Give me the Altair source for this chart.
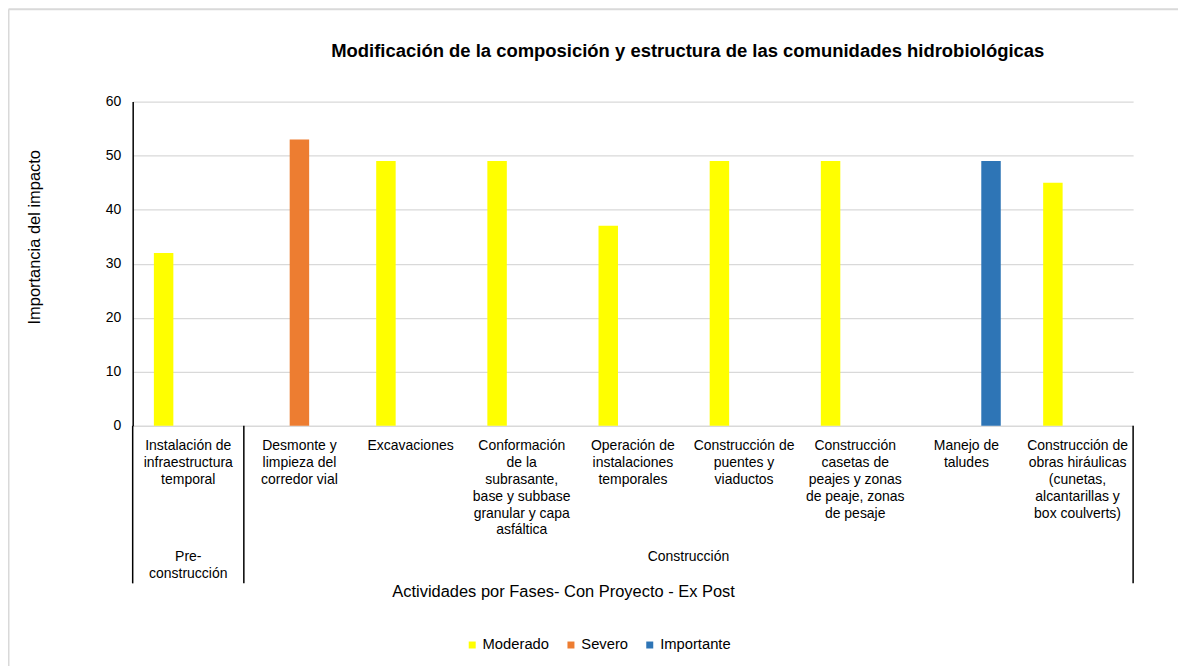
import altair as alt
import pandas as pd

FONT = "Liberation Sans"

# ---- data ----
categories = [
    "Instalación de infraestructura temporal",
    "Desmonte y limpieza del corredor vial",
    "Excavaciones",
    "Conformación de la subrasante, base y subbase granular y capa asfáltica",
    "Operación de instalaciones temporales",
    "Construcción de puentes y viaductos",
    "Construcción casetas de peajes y zonas de peaje, zonas de pesaje",
    "Manejo de taludes",
    "Construcción de obras hiráulicas (cunetas, alcantarillas y box coulverts)",
]
category_labels = [
    "Instalación de|infraestructura|temporal",
    "Desmonte y|limpieza del|corredor vial",
    "Excavaciones",
    "Conformación|de la|subrasante,|base y subbase|granular y capa|asfáltica",
    "Operación de|instalaciones|temporales",
    "Construcción de|puentes y|viaductos",
    "Construcción|casetas de|peajes y zonas|de peaje, zonas|de pesaje",
    "Manejo de|taludes",
    "Construcción de|obras hiráulicas|(cunetas,|alcantarillas y|box coulverts)",
]
bar_series = ["Moderado", "Severo", "Moderado", "Moderado", "Moderado",
              "Moderado", "Moderado", "Importante", "Moderado"]
bar_values = [32, 53, 49, 49, 37, 49, 49, 49, 45]

series_names = ["Moderado", "Severo", "Importante"]
series_colors = ["#FFFF00", "#ED7D31", "#2E75B6"]

phase_labels = ["Pre-|construcción", "Construcción"]
phase_first = [categories[0], categories[1]]
phase_last = [categories[0], categories[8]]

title_text = "Modificación de la composición y estructura de las comunidades hidrobiológicas"
y_title = "Importancia del impacto"
x_title = "Actividades por Fases- Con Proyecto - Ex Post"

W, H = 1003, 325

bars_df = pd.DataFrame({"cat": categories, "serie": bar_series, "valor": bar_values})
labels_df = pd.DataFrame({"cat": categories, "label": category_labels})

xscale = alt.Scale(domain=categories, paddingInner=0, paddingOuter=0)

bars = alt.Chart(bars_df).mark_bar().encode(
    x=alt.X("cat:N", scale=xscale, sort=categories,
            axis=alt.Axis(labels=False, ticks=False, domain=True, domainColor="black",
                          domainWidth=1.5, grid=False, title=None)),
    xOffset=alt.XOffset("serie:N", scale=alt.Scale(domain=series_names, paddingInner=0.21, paddingOuter=0.86)),
    y=alt.Y("valor:Q", scale=alt.Scale(domain=[0, 60]),
            axis=alt.Axis(values=[0, 10, 20, 30, 40, 50, 60], ticks=False, labelPadding=12,
                          labelFontSize=14, labelColor="black", domainColor="black", domainWidth=1.5,
                          gridColor="#d9d9d9", gridWidth=1.3,
                          title=y_title, titleFontSize=16.5, titleFontWeight="normal",
                          titleColor="black", titleX=-98, titleY=135.5, titleAngle=270,
                          titleAlign="center", titleBaseline="middle")),
    color=alt.Color("serie:N", scale=alt.Scale(domain=series_names, range=series_colors),
                    legend=alt.Legend(title=None, orient="none", legendX=333, legendY=537,
                                      direction="horizontal", symbolType="square", symbolSize=49,
                                      symbolStrokeWidth=0, labelFontSize=14.8, labelColor="black",
                                      columnPadding=14, labelOffset=3, padding=0)),
)

cat_text = alt.Chart(labels_df).mark_text(
    lineBreak="|", baseline="top", align="center", fontSize=14, lineHeight=17, color="black", font=FONT
).encode(
    x=alt.X("cat:N", scale=xscale, sort=categories, axis=None),
    y=alt.value(338),
    text="label:N",
)

pre_text = alt.Chart(pd.DataFrame({"cat": [categories[0]], "label": [phase_labels[0]]})).mark_text(
    lineBreak="|", baseline="top", align="center", fontSize=14, lineHeight=17, color="black", font=FONT
).encode(
    x=alt.X("cat:N", scale=xscale, sort=categories, axis=None, bandPosition=0.5),
    y=alt.value(450),
    text="label:N",
)

con_text = alt.Chart(pd.DataFrame({"cat": [categories[4]], "label": [phase_labels[1]]})).mark_text(
    baseline="top", align="center", fontSize=14, color="black", font=FONT
).encode(
    x=alt.X("cat:N", scale=xscale, sort=categories, axis=None, bandPosition=1),
    y=alt.value(450),
    text="label:N",
)

rule_start = alt.Chart(pd.DataFrame({"cat": phase_first})).mark_rule(color="black", strokeWidth=1.5).encode(
    x=alt.X("cat:N", scale=xscale, sort=categories, axis=None, bandPosition=0),
    y=alt.value(H), y2=alt.value(483),
)
rule_end = alt.Chart(pd.DataFrame({"cat": [phase_last[1]]})).mark_rule(color="black", strokeWidth=1.5).encode(
    x=alt.X("cat:N", scale=xscale, sort=categories, axis=None, bandPosition=1),
    y=alt.value(H), y2=alt.value(483),
)

title_mark = alt.Chart(pd.DataFrame({"t": [title_text]})).mark_text(
    fontSize=18.5, fontWeight="bold", font=FONT, color="black", align="center", baseline="alphabetic"
).encode(text="t:N", x=alt.value(556.5), y=alt.value(-44.5))

xtitle_mark = alt.Chart(pd.DataFrame({"t": [x_title]})).mark_text(
    fontSize=16.5, font=FONT, color="black", align="center", baseline="middle"
).encode(text="t:N", x=alt.value(432), y=alt.value(492))

# outer chart frame (decorative)
frame_left = alt.Chart(pd.DataFrame({"k": [0]})).mark_rule(color="#d9d9d9", strokeWidth=2).encode(
    x=alt.value(-124.5), y=alt.value(-92.5), y2=alt.value(H + 260)
)
frame_top = alt.Chart(pd.DataFrame({"k": [0]})).mark_rule(color="#d9d9d9", strokeWidth=2).encode(
    x=alt.value(-124.5), x2=alt.value(W + 100), y=alt.value(-92.5)
)

chart = alt.layer(
    frame_left, frame_top, bars, cat_text, pre_text, con_text, rule_start, rule_end,
    title_mark, xtitle_mark
).properties(
    width=W, height=H,
    autosize=alt.AutoSizeParams(type="none"),
    padding={"left": 125, "top": 93, "right": 45, "bottom": 240},
).configure(font=FONT).configure_view(stroke=None)

chart.save("out.html", embed_options={"renderer": "svg", "actions": False})
